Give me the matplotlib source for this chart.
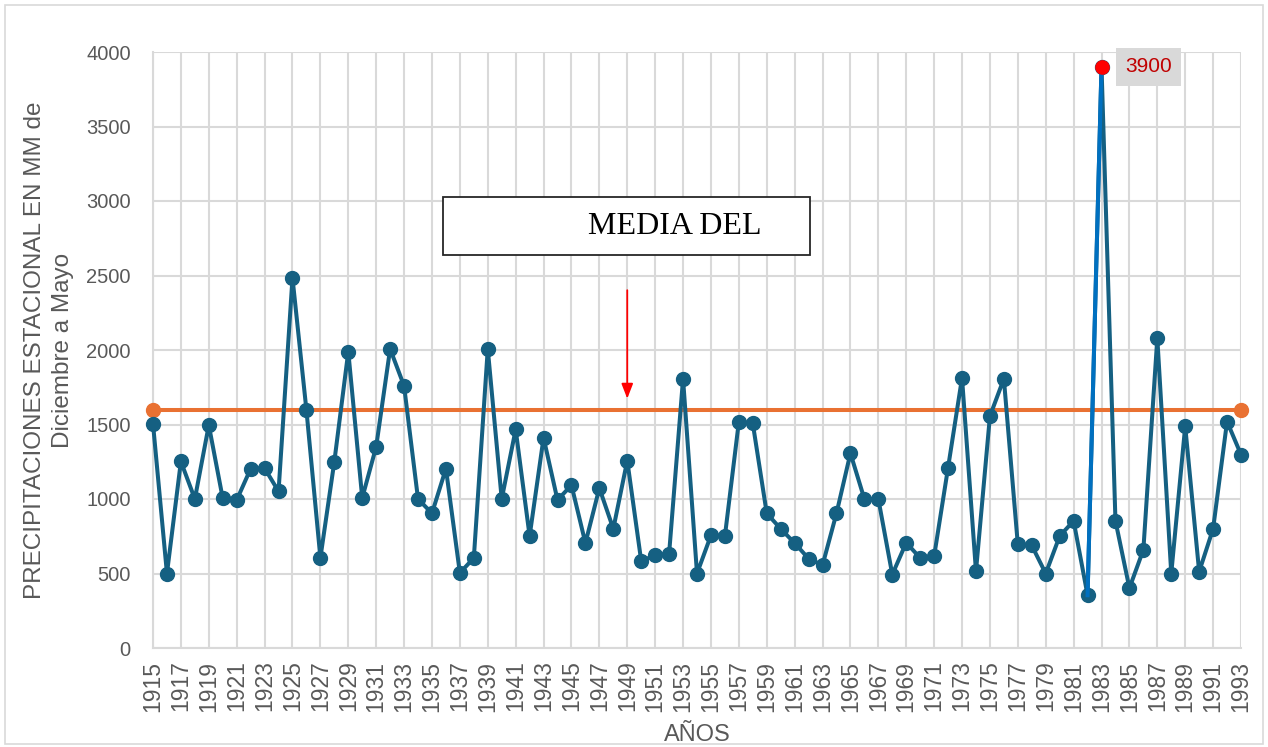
import matplotlib
matplotlib.use("Agg")
import matplotlib.pyplot as plt
from matplotlib.patches import Rectangle

plt.rcParams['font.family'] = ['Liberation Sans', 'DejaVu Sans']

years = list(range(1915, 1994))
precip = [
    1505, 500, 1252, 1000, 1496, 1004, 993, 1203, 1207, 1051,   # 1915-1924
    2484, 1596, 605, 1251, 1989, 1007, 1351, 2007, 1759, 1000,  # 1925-1934
    904, 1204, 504, 604, 2007, 1000, 1467, 751, 1411, 993,      # 1935-1944
    1093, 704, 1073, 800, 1258, 584, 622, 633, 1807, 500,       # 1945-1954
    756, 751, 1518, 1507, 904, 800, 704, 600, 556, 904,         # 1955-1964
    1307, 1000, 1000, 493, 707, 604, 616, 1211, 1813, 515,      # 1965-1974
    1556, 1807, 695, 688, 500, 751, 853, 354, 3900, 853,        # 1975-1984
    402, 659, 2080, 500, 1488, 512, 800, 1520, 1298,            # 1985-1993
]
media = [1600] * len(years)
peak_year = 1983
peak_value = 3900

y_ticks = [0, 500, 1000, 1500, 2000, 2500, 3000, 3500, 4000]
x_ticks = list(range(1915, 1994, 2))

blue = '#156082'
orange = '#E97132'
grey_txt = '#595959'

fig = plt.figure(figsize=(12.68, 7.47), dpi=100)
ax = fig.add_axes([153 / 1268, 99 / 747, 1088 / 1268, 596 / 747])

# mean line with markers at both ends
ax.plot(years, media, color=orange, lw=2.9, marker='o', ms=10,
        markevery=[0, len(years) - 1], zorder=3, solid_capstyle='butt',
        clip_on=False)

# precipitation series
ax.plot(years, precip, color=blue, lw=2.9, marker='o', ms=10, zorder=4,
        clip_on=False)

# highlighted peak: lighter segment leading to it and a red marker
i = years.index(peak_year)
ax.plot(years[i - 1:i + 1], precip[i - 1:i + 1], color='#0070C0', lw=2.9,
        zorder=5)
ax.plot([peak_year], [peak_value], 'o', color='#FF0000', ms=9.5, zorder=6,
        clip_on=False)
ax.annotate(str(peak_value), xy=(peak_year, peak_value), xytext=(17, 0),
            textcoords='offset points', ha='left', va='center',
            fontsize=15, color='#C00000', zorder=7,
            bbox=dict(boxstyle='square,pad=0.45', fc='#D9D9D9', ec='none'))

# mean annotation box and arrow
ax.add_patch(Rectangle((0.2665, 0.659), 0.3375, 0.098, transform=ax.transAxes,
                       fc='white', ec='#262626', lw=1.3, zorder=8))
ax.text(0.48, 0.708, 'MEDIA DEL', transform=ax.transAxes, ha='center',
        va='center', fontsize=23, family=['Liberation Serif', 'DejaVu Serif'],
        color='black', zorder=9)
ax.annotate('', xy=(1949, 1655), xytext=(1949, 2420),
            arrowprops=dict(arrowstyle='-|>,head_width=0.35,head_length=0.9',
                            color='#FF0000', lw=1.3), zorder=9)

ax.set_xlim(1915, 1993)
ax.set_ylim(0, 4000)
ax.set_xticks(x_ticks)
ax.set_xticklabels([str(y) for y in x_ticks], rotation=90)
ax.set_yticks(y_ticks)
ax.tick_params(axis='both', length=0, colors=grey_txt, labelsize=14.5)
ax.tick_params(axis='x', pad=9, labelsize=16.5)
ax.tick_params(axis='y', pad=16)
ax.grid(True, color='#D9D9D9', lw=1.5)
ax.set_axisbelow(True)
for side in ['top', 'right']:
    ax.spines[side].set_visible(False)
for side in ['left', 'bottom']:
    ax.spines[side].set_color('#D9D9D9')
    ax.spines[side].set_linewidth(1.5)

ax.set_xlabel('AÑOS', fontsize=17, color=grey_txt, labelpad=9)
ax.set_ylabel('PRECIPITACIONES ESTACIONAL EN MM de\nDiciembre a Mayo',
              fontsize=17.5, color=grey_txt, labelpad=9, linespacing=1.35)

# chart frame
fig.add_artist(Rectangle((5 / 1268, 3 / 747), 1258 / 1268, 739 / 747,
                         transform=fig.transFigure, fill=False,
                         ec='#D9D9D9', lw=1.2))

fig.savefig('out.png', dpi=100)
